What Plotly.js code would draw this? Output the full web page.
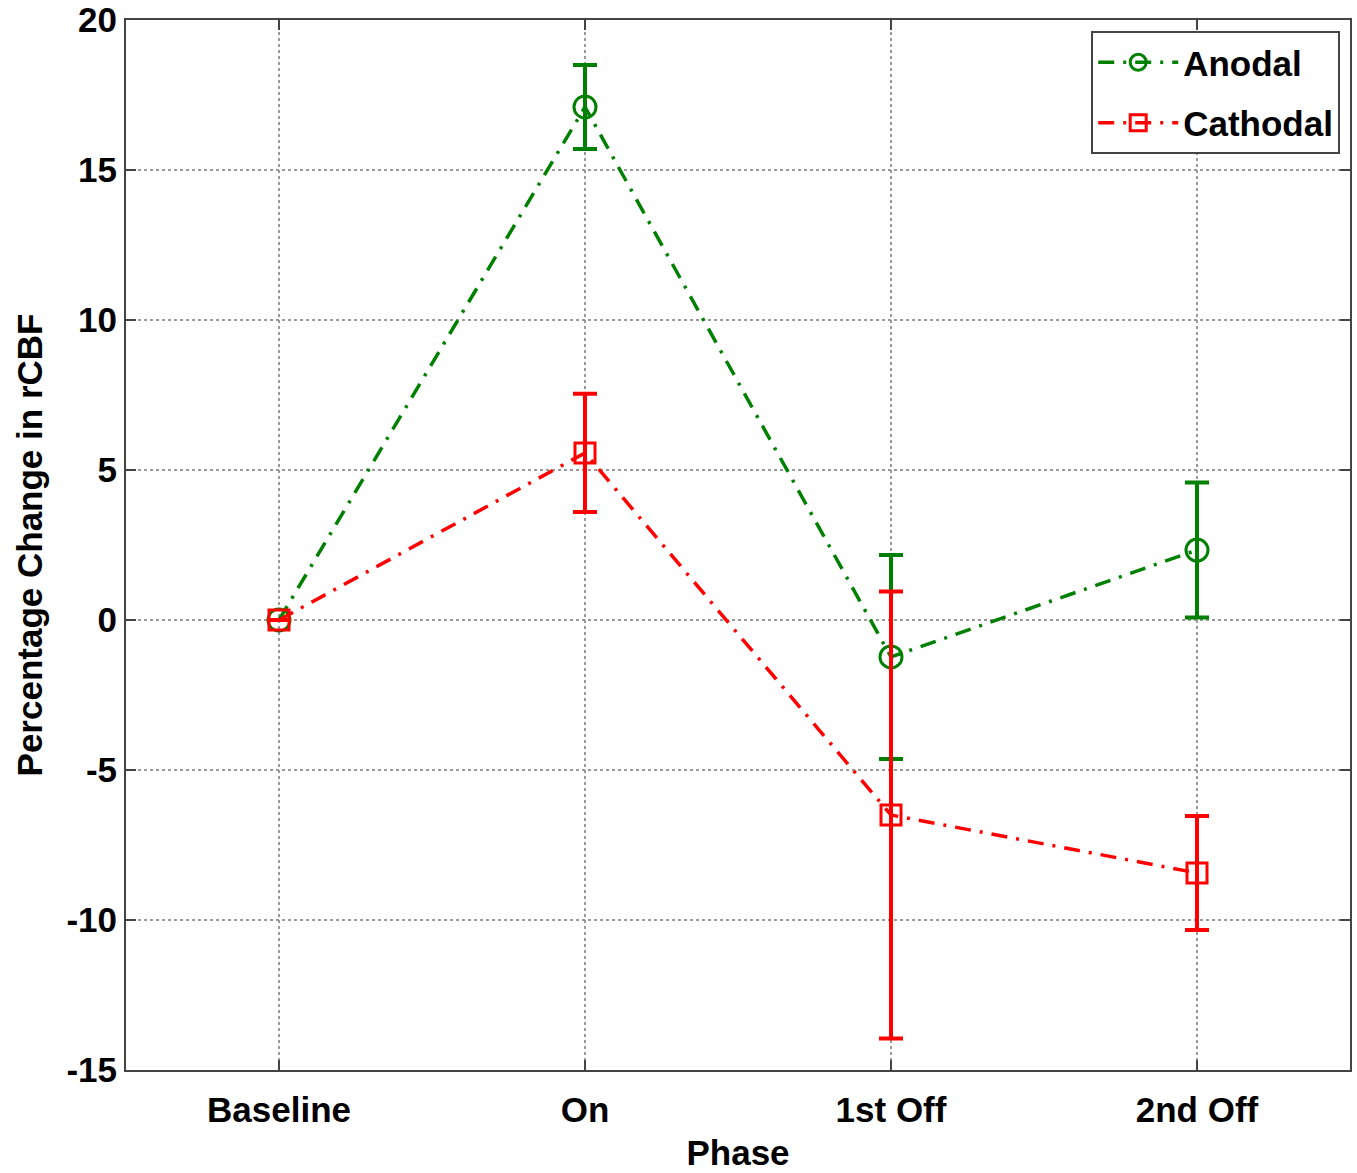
<!DOCTYPE html>
<html>
<head>
<meta charset="utf-8">
<script src="https://cdn.plot.ly/plotly-3.0.1.min.js"></script>
<style>html,body{margin:0;padding:0;background:#fff;}#chart{width:1357px;height:1173px;}</style>
</head>
<body>
<div id="chart"></div>
<script>
const phases = ["Baseline", "On", "1st Off", "2nd Off"];
const anodalMean = [0, 17.1, -1.23, 2.33];
const anodalErr = [0, 1.4, 3.4, 2.25];
const cathodalMean = [0, 5.57, -6.5, -8.43];
const cathodalErr = [0, 1.97, 7.45, 1.9];
const yTickVals = [-15, -10, -5, 0, 5, 10, 15, 20];
const yTickText = ["-15", "-10", "-5", "0", "5", "10", "15", "20"];

const FONT = "Liberation Sans, Arial, sans-serif";
const FS = 35;

const anodal = {
  x: phases, y: anodalMean, name: "Anodal", type: "scatter", mode: "lines+markers",
  legendgroup: "a",
  line: {color: "#008000", width: 3.5, dash: "16px,9px,3px,9px"},
  marker: {symbol: "circle-open", size: 22, color: "#008000", line: {width: 3, color: "#008000"}},
  error_y: {type: "data", array: anodalErr, visible: true, color: "#008000", thickness: 4, width: 12}
};
const cathodal = {
  x: phases, y: cathodalMean, name: "Cathodal", type: "scatter", mode: "lines+markers",
  legendgroup: "c",
  line: {color: "#ff0000", width: 3.5, dash: "16px,9px,3px,9px"},
  marker: {symbol: "square-open", size: 20, color: "#ff0000", line: {width: 3, color: "#ff0000"}},
  error_y: {type: "data", array: cathodalErr, visible: true, color: "#ff0000", thickness: 4, width: 12}
};

const layout = {
  width: 1357, height: 1173,
  margin: {l: 126, r: 7, t: 20, b: 103},
  paper_bgcolor: "#fff", plot_bgcolor: "#fff",
  font: {family: FONT, size: FS, color: "#000"},
  showlegend: true,
  legend: {
    x: 0.992, y: 0.9895, xanchor: "right", yanchor: "top",
    bgcolor: "#fff", bordercolor: "#444", borderwidth: 2,
    font: {family: FONT, size: FS, color: "#000", weight: "bold"},
    traceorder: "grouped", tracegroupgap: 12, itemwidth: 80
  },
  xaxis: {
    type: "category", range: [-0.5, 3.5],
    showline: true, mirror: "ticks", linecolor: "#444", linewidth: 2,
    ticks: "inside", ticklen: 10, tickcolor: "#444", tickwidth: 2,
    showgrid: true, gridcolor: "#999", griddash: "dot", gridwidth: 2,
    zeroline: false, ticklabelstandoff: 8,
    tickfont: {family: FONT, size: FS, color: "#000", weight: "bold"},
    title: {text: "Phase", standoff: 12, font: {family: FONT, size: FS, color: "#000", weight: "bold"}}
  },
  yaxis: {
    range: [-15, 20], tickvals: yTickVals, ticktext: yTickText,
    showline: true, mirror: "ticks", linecolor: "#444", linewidth: 2,
    ticks: "inside", ticklen: 10, tickcolor: "#444", tickwidth: 2,
    showgrid: true, gridcolor: "#999", griddash: "dot", gridwidth: 2,
    zeroline: false,
    tickfont: {family: FONT, size: FS, color: "#000", weight: "bold"},
    title: {text: "Percentage Change in rCBF", standoff: 13, font: {family: FONT, size: FS, color: "#000", weight: "bold"}}
  }
};

Plotly.newPlot("chart", [anodal, cathodal], layout, {displayModeBar: false, staticPlot: true});
</script>
</body>
</html>
